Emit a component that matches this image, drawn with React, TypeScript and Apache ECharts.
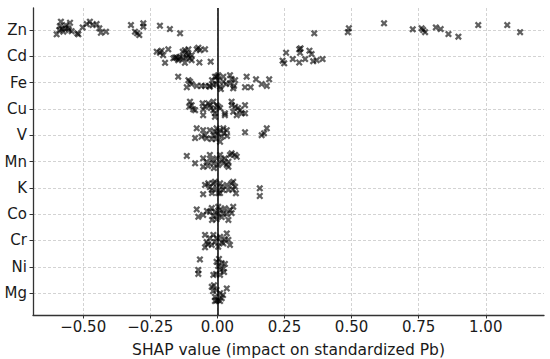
import React, { useEffect, useRef } from "react";
import * as echarts from "echarts";

// Feature names, top to bottom
const features = ["Zn", "Cd", "Fe", "Cu", "V", "Mn", "K", "Co", "Cr", "Ni", "Mg"];

// Each point: [SHAP value, vertical jitter within its row]
const zn: number[][] = [
  [-0.599, 0.17], [-0.583, -0.31], [-0.587, -0.14], [-0.589, 0.01], [-0.574, 0.07], [-0.568, -0.06],
  [-0.556, -0.06], [-0.549, -0.27], [-0.543, 0.05], [-0.522, 0.13], [-0.518, 0.17], [-0.502, -0.09],
  [-0.487, -0.22], [-0.475, -0.31], [-0.465, -0.18], [-0.45, -0.22], [-0.44, -0.06], [-0.434, 0.11],
  [-0.415, 0.07], [-0.564, -0.18], [-0.579, -0.03], [-0.553, 0.01], [-0.322, -0.18], [-0.307, 0.07],
  [-0.299, 0.13], [-0.291, 0.2], [-0.276, -0.25], [-0.276, -0.12], [-0.214, -0.16], [-0.177, -0.03],
  [-0.139, 0.13], [0.361, 0.13], [0.486, 0.09], [0.49, -0.06], [0.621, -0.25], [0.728, -0.02],
  [0.761, -0.06], [0.767, 0.01], [0.774, 0.09], [0.814, -0.09], [0.832, -0.03], [0.861, 0.16],
  [0.898, 0.26], [0.972, -0.18], [1.08, -0.18], [1.128, 0.09],
];
const cd: number[][] = [
  [-0.226, -0.17], [-0.214, -0.13], [-0.208, -0.21], [-0.202, -0.04], [-0.195, 0.25], [-0.183, -0.26],
  [-0.164, 0.08], [-0.158, 0.05], [-0.152, 0.05], [-0.146, 0.15], [-0.139, 0.02], [-0.129, -0.17],
  [-0.127, 0.07], [-0.121, -0.23], [-0.114, -0.11], [-0.108, -0.26], [-0.108, -0.04], [-0.121, 0.25],
  [-0.102, 0.08], [-0.096, -0.04], [-0.096, 0.15], [-0.077, -0.26], [-0.071, -0.32], [-0.065, -0.23],
  [-0.067, 0.24], [-0.046, -0.26], [-0.025, 0.21], [-0.143, 0.11], [-0.117, 0.05],
  [0.243, 0.17], [0.249, 0.27], [0.256, -0.13], [0.281, 0.11], [0.305, -0.26], [0.308, -0.13],
  [0.31, -0.3], [0.305, 0.24], [0.327, 0.11], [0.343, -0.21], [0.351, -0.08], [0.357, 0.19],
  [0.37, 0.15], [0.392, 0.11],
];
const fe: number[][] = [
  [-0.146, -0.22], [-0.108, -0.09], [-0.102, -0.03], [-0.114, 0.18], [-0.096, 0.06], [-0.077, 0.13],
  [-0.059, 0.13], [-0.03, 0.13], [-0.028, 0.16], [-0.015, 0.09], [-0.009, -0.22], [-0.003, -0.22],
  [0.003, -0.28], [0.002, -0.09], [-0.005, 0.06], [0.01, 0.16], [0.013, 0.25], [0.022, -0.22],
  [0.022, -0.03], [0.032, 0.06], [0.047, -0.28], [0.053, -0.13], [0.047, 0.03], [0.059, 0.22],
  [0.066, -0.09], [0.062, 0.13], [0.109, -0.22], [0.103, 0.18], [0.124, 0.18], [0.144, -0.12],
  [0.165, 0.06], [0.184, 0.13], [0.193, -0.12], [-0.02, -0.09], [-0.046, 0.13],
];
const cu: number[][] = [
  [-0.105, -0.08], [-0.102, -0.27], [-0.096, -0.14], [-0.09, 0.02], [-0.083, 0.05], [-0.055, -0.21],
  [-0.053, 0.02], [-0.053, 0.24], [-0.046, -0.08], [-0.034, -0.21], [-0.028, -0.14], [-0.024, -0.03],
  [-0.015, -0.27], [-0.015, 0.05], [-0.009, 0.17], [-0.009, 0.3], [-0.003, -0.14], [0.003, -0.08],
  [0.01, -0.03], [0.028, 0.17], [0.028, 0.24], [0.053, -0.27], [0.054, -0.14], [0.059, 0.11],
  [0.066, -0.08], [0.072, 0.24], [0.084, 0.05], [0.091, 0.17], [0.103, -0.14], [0.103, 0.17],
  [0.077, -0.03],
];
const v: number[][] = [
  [-0.083, 0.11], [-0.077, -0.26], [-0.059, 0.06], [-0.053, -0.19], [-0.046, 0.0], [-0.04, 0.12],
  [-0.028, -0.19], [-0.021, 0.15], [-0.015, 0.0], [-0.009, -0.13], [-0.003, -0.26], [0.002, -0.04],
  [0.01, -0.19], [0.016, 0.06], [0.022, -0.26], [0.025, -0.08], [0.035, -0.19], [0.036, 0.03],
  [0.01, 0.25], [-0.005, 0.15], [0.103, -0.11], [0.165, 0.0], [0.174, -0.07], [0.184, -0.26],
];
const mn: number[][] = [
  [-0.114, -0.21], [-0.083, 0.07], [-0.053, -0.12], [-0.053, 0.2], [-0.04, 0.01], [-0.028, -0.25],
  [-0.021, -0.06], [-0.015, 0.07], [-0.003, -0.12], [0.003, 0.13], [0.01, -0.25], [0.016, -0.06],
  [0.022, 0.07], [0.028, -0.12], [0.035, 0.13], [0.041, 0.2], [0.041, 0.01], [0.047, -0.25],
  [0.053, -0.31], [0.066, -0.25], [0.072, -0.18], [-0.035, 0.17], [-0.013, 0.25],
];
const k: number[][] = [
  [-0.053, 0.24], [-0.046, -0.11], [-0.034, -0.17], [-0.028, -0.03], [-0.021, 0.08], [-0.015, -0.17],
  [-0.009, -0.23], [-0.003, 0.01], [0.003, 0.2], [0.01, -0.17], [0.016, -0.04], [0.01, 0.2],
  [0.021, 0.08], [0.035, -0.11], [0.041, 0.08], [0.053, -0.17], [0.059, -0.23], [0.066, -0.04],
  [0.069, 0.21], [0.058, 0.05], [0.158, 0.02], [0.158, 0.31], [-0.02, 0.2],
];
const co: number[][] = [
  [-0.077, -0.18], [-0.071, 0.1], [-0.053, 0.03], [-0.039, -0.12], [-0.028, -0.09], [-0.021, -0.23],
  [-0.015, 0.07], [-0.009, -0.08], [-0.003, 0.19], [0.003, -0.28], [0.003, 0.0], [0.01, -0.16],
  [0.016, 0.11], [0.022, -0.04], [0.028, -0.22], [0.035, 0.0], [0.041, 0.22], [0.047, -0.16],
  [0.053, -0.04], [0.059, -0.28], [-0.02, 0.22],
];
const cr: number[][] = [
  [-0.046, -0.21], [-0.046, 0.26], [-0.04, 0.06], [-0.028, -0.09], [-0.021, 0.17], [-0.015, -0.21],
  [-0.009, 0.06], [-0.003, -0.09], [0.003, 0.24], [0.01, -0.14], [0.016, 0.06], [0.022, 0.11],
  [0.028, -0.05], [0.035, -0.27], [0.041, -0.02], [0.047, 0.17], [-0.035, 0.14],
];
const ni: number[][] = [
  [-0.065, -0.28], [-0.071, 0.12], [-0.071, 0.27], [-0.015, 0.31], [-0.003, -0.19], [0.003, -0.03],
  [0.01, 0.12], [0.016, -0.14], [0.022, 0.06], [0.028, -0.11], [-0.005, 0.27], [0.01, 0.31],
  [0.006, -0.3], [0.025, 0.2],
];
const mg: number[][] = [
  [-0.021, -0.24], [-0.016, -0.08], [-0.009, 0.14], [-0.003, -0.12], [0.003, 0.26], [0.01, 0.0],
  [0.016, 0.19], [0.035, -0.18], [-0.009, 0.3], [-0.003, 0.28], [0.01, 0.3], [-0.013, -0.3],
  [0.021, 0.07],
];

const rows = [zn, cd, fe, cu, v, mn, k, co, cr, ni, mg];

const xTicks = [-0.5, -0.25, 0, 0.25, 0.5, 0.75, 1.0];
const yTicks = [0, 1, 2, 3, 4, 5, 6, 7, 8, 9, 10];

const xMin = -0.687;
const xMax = 1.217;
const yMin = -0.83;
const yMax = 10.83;

const xPath =
  "path://M0,2.3 L2.3,0 L5,2.7 L7.7,0 L10,2.3 L7.3,5 L10,7.7 L7.7,10 L5,7.3 L2.3,10 L0,7.7 L2.7,5 Z";

export default function App() {
  const ref = useRef<HTMLDivElement>(null);
  useEffect(() => {
    if (!ref.current) return;
    const chart = echarts.init(ref.current, undefined, { renderer: "svg" });
    const data: number[][] = [];
    rows.forEach((pts, i) => {
      pts.forEach((p) => data.push([p[0], i + p[1]]));
    });
    const font = "DejaVu Sans";
    chart.setOption({
      animation: false,
      backgroundColor: "#ffffff",
      grid: { left: 33, right: 6, top: 8, bottom: 44, containLabel: false, outerBoundsMode: "none" },
      xAxis: {
        type: "value",
        min: xMin,
        max: xMax,
        name: "SHAP value (impact on standardized Pb)",
        nameLocation: "middle",
        nameGap: 27,
        nameMoveOverlap: false,
        nameTextStyle: { fontFamily: font, fontSize: 15.5, color: "#1a1a1a" },
        axisLine: { show: true, onZero: false, lineStyle: { color: "#333", width: 1.3 } },
        axisTick: { show: true, inside: false, length: 3.5, customValues: xTicks, lineStyle: { color: "#333", width: 1 } },
        axisLabel: {
          customValues: xTicks,
          margin: 4,
          fontFamily: font,
          fontSize: 15,
          color: "#1a1a1a",
          formatter: (val: number) => val.toFixed(2).replace("-", "\u2212"),
        },
        splitLine: { show: true, lineStyle: { color: "#c8c8c8", type: [3, 2], width: 0.8 } },
      },
      yAxis: {
        type: "value",
        inverse: true,
        min: yMin,
        max: yMax,
        axisLine: { show: true, onZero: false, lineStyle: { color: "#333", width: 1.3 } },
        axisTick: { show: true, inside: false, length: 3.5, customValues: yTicks, lineStyle: { color: "#333", width: 1 } },
        axisLabel: {
          customValues: yTicks,
          margin: 6,
          fontFamily: font,
          fontSize: 15,
          color: "#1a1a1a",
          formatter: (val: number) => features[Math.round(val)] ?? "",
        },
        splitLine: { show: true, lineStyle: { color: "#c8c8c8", type: [3, 2], width: 0.8 } },
      },
      series: [
        {
          type: "scatter",
          data,
          symbol: xPath,
          symbolSize: 7,
          itemStyle: { color: "rgba(0,0,0,0.78)" },
          markLine: {
            silent: true,
            symbol: ["none", "none"],
            label: { show: false },
            lineStyle: { color: "#000", type: "solid", width: 1.5 },
            data: [{ xAxis: 0 }],
          },
        },
      ],
    });
    return () => chart.dispose();
  }, []);
  return (
    <div
      ref={ref}
      style={{ position: "fixed", left: 0, top: 0, width: 550, height: 359, background: "#fff" }}
    />
  );
}
